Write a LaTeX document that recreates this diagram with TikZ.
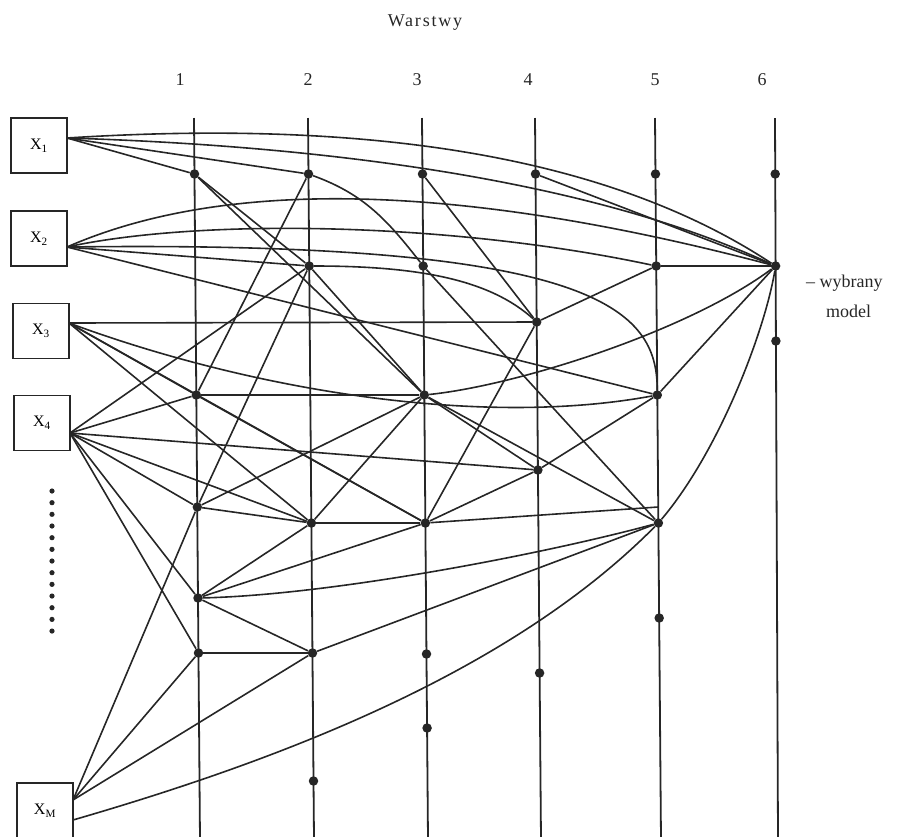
\documentclass[tikz,border=0pt]{standalone}
\usepackage{fontspec}
\setmainfont{Liberation Serif}
\begin{document}
\begin{tikzpicture}[x=1pt,y=-1pt]
\definecolor{ink}{RGB}{38,38,38}
\tikzset{
  dot/.style={circle, fill=ink, inner sep=0pt, minimum size=9.5pt},
  link/.style={draw=ink, line width=1.6pt},
  layerline/.style={draw=ink, line width=1.8pt},
  inbox/.style={draw=ink, line width=1.2pt, minimum width=56pt, minimum height=55pt, inner sep=0pt, font=\fontsize{16}{16}\selectfont},
  lbl/.style={font=\fontsize{18}{18}\selectfont, text=ink, inner sep=0pt}
}
\useasboundingbox (0,0) rectangle (910,836);

% header
\node[lbl, font=\fontsize{18}{18}\selectfont\addfontfeature{LetterSpace=10}] (title) at (425,23) {Warstwy};
\node[lbl] (n1) at (180,80) {1};
\node[lbl] (n2) at (308,80) {2};
\node[lbl] (n3) at (417,80) {3};
\node[lbl] (n4) at (528,80) {4};
\node[lbl] (n5) at (655,80) {5};
\node[lbl] (n6) at (762,80) {6};

% layer lines
\coordinate (l1t) at (194,118); \coordinate (l1b) at (200,840);
\coordinate (l2t) at (308,118); \coordinate (l2b) at (314,840);
\coordinate (l3t) at (422,118); \coordinate (l3b) at (428,840);
\coordinate (l4t) at (535,118); \coordinate (l4b) at (541,840);
\coordinate (l5t) at (655,118); \coordinate (l5b) at (661,840);
\coordinate (l6t) at (775,118); \coordinate (l6b) at (778,840);
\foreach \k in {1,...,6} \draw[layerline] (l\k t) -- (l\k b);

% input boxes
\node[inbox] (X1) at (39,145.5) {X\textsubscript{1}};
\node[inbox] (X2) at (39,238.5) {X\textsubscript{2}};
\node[inbox] (X3) at (41,331) {X\textsubscript{3}};
\node[inbox] (X4) at (42,423) {X\textsubscript{4}};
\node[inbox] (XM) at (45,810.5) {X\textsubscript{M}};
\coordinate (x1p) at (67,138);
\coordinate (x2p) at (67,247);
\coordinate (x3p) at (69,323);
\coordinate (x4p) at (70,433);
\coordinate (xmp) at (73,800);
\coordinate (xmq) at (73,820);

% ellipsis between X4 and XM
\foreach \i in {0,...,12} \fill[ink] (52,{491+11.67*\i}) circle (2.6pt);

% neurons
\node[dot] (a1) at (194.5,174) {};
\node[dot] (a2) at (196.3,395) {};
\node[dot] (a3) at (197.3,507) {};
\node[dot] (a4) at (198,598) {};
\node[dot] (a5) at (198.5,653) {};
\node[dot] (b1) at (308.5,174) {};
\node[dot] (b2) at (309.2,266) {};
\node[dot] (b3) at (311.4,523) {};
\node[dot] (b4) at (312.5,653) {};
\node[dot] (b5) at (313.5,781) {};
\node[dot] (c1) at (422.5,174) {};
\node[dot] (c2) at (423.2,266) {};
\node[dot] (c3) at (424.3,395) {};
\node[dot] (c4) at (425.4,523) {};
\node[dot] (c5) at (426.5,654) {};
\node[dot] (c6) at (427.1,728) {};
\node[dot] (d1) at (535.5,174) {};
\node[dot] (d2) at (536.7,322) {};
\node[dot] (d3) at (537.9,470) {};
\node[dot] (d4) at (539.6,673) {};
\node[dot] (e1) at (655.5,174) {};
\node[dot] (e2) at (656.2,266) {};
\node[dot] (e3) at (657.3,395) {};
\node[dot] (e4) at (658.4,523) {};
\node[dot] (e5) at (659.2,618) {};
\node[dot] (f1) at (775.2,174) {};
\node[dot] (f2) at (775.6,266) {};
\node[dot] (f3) at (775.9,341) {};
\coordinate (c4end) at (658.2,507);

% chosen model label
\node[lbl, anchor=west] (chosen) at (806,283) {\textendash{} wybrany};
\node[lbl, anchor=west] (chosen2) at (826,311) {model};

% connections from X1
\draw[link] (x1p) -- (a1);
\draw[link] (x1p) -- (b1);
\draw[link] (x1p) .. controls (350,120) and (600,150) .. (f2);
\draw[link] (x1p) .. controls (300,145) and (580,175) .. (f2);
\draw[link] (b1) to[out=-20,in=128] (c2);

% connections from X2
\draw[link] (x2p) .. controls (220,180) and (450,180) .. (f2);
\draw[link] (x2p) .. controls (200,218) and (450,222) .. (e2);
\draw[link] (x2p) .. controls (600,240) and (657,310) .. (e3);
\draw[link] (x2p) -- (b2);
\draw[link] (x2p) -- (e3);

% connections from X3
\draw[link] (x3p) -- (d2);
\draw[link] (x3p) .. controls (250,390) and (480,428) .. (e3);
\draw[link] (x3p) -- (a2);
\draw[link] (x3p) -- (c4);
\draw[link] (x3p) -- (b3);

% connections from X4
\draw[link] (x4p) -- (a2);
\draw[link] (x4p) -- (b2);
\draw[link] (x4p) -- (d3);
\draw[link] (x4p) -- (a3);
\draw[link] (x4p) -- (b3);
\draw[link] (x4p) -- (a4);
\draw[link] (x4p) -- (a5);

% connections from XM
\draw[link] (xmp) -- (a3);
\draw[link] (xmp) -- (a5);
\draw[link] (xmp) -- (b4);
\draw[link] (xmq) .. controls (273,762) and (508,675) .. (e4);

% links between layers
\draw[link] (a1) -- (b2);
\draw[link] (a1) -- (c3);
\draw[link] (b1) -- (a2);
\draw[link] (a2) -- (c3);
\draw[link] (a2) -- (c4);
\draw[link] (a3) -- (b2);
\draw[link] (a3) -- (b3);
\draw[link] (a3) -- (c3);
\draw[link] (a4) -- (b3);
\draw[link] (a4) -- (c4);
\draw[link] (a4) -- (b4);
\draw[link] (a4) .. controls (330,595) and (540,555) .. (e4);
\draw[link] (a5) -- (b4);
\draw[link] (b2) -- (c3);
\draw[link] (b2) .. controls (420,266) and (490,280) .. (d2);
\draw[link] (b3) -- (c3);
\draw[link] (b3) -- (c4);
\draw[link] (b4) -- (e4);
\draw[link] (c1) -- (d2);
\draw[link] (c2) -- (e4);
\draw[link] (c3) -- (d3);
\draw[link] (c3) -- (e4);
\draw[link] (c3) .. controls (520,385) and (690,330) .. (f2);
\draw[link] (c4) -- (d2);
\draw[link] (c4) -- (d3);
\draw[link] (c4) -- (c4end);
\draw[link] (d1) -- (f2);
\draw[link] (d2) -- (e2);
\draw[link] (d3) -- (e3);
\draw[link] (e2) -- (f2);
\draw[link] (e3) -- (f2);
\draw[link] (e4) .. controls (720,450) and (765,330) .. (f2);
\end{tikzpicture}
\end{document}
